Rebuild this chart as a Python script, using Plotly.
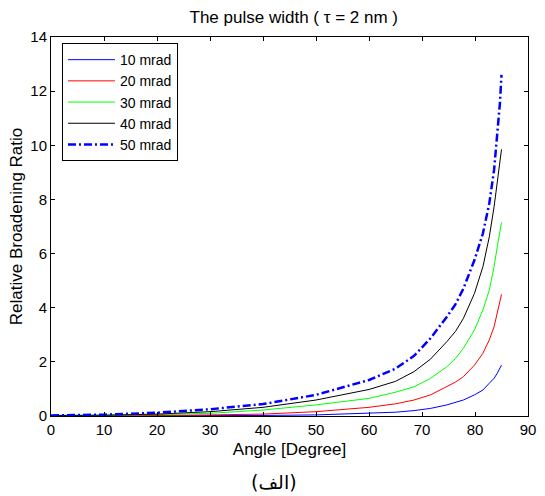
import plotly.graph_objects as go

angle = [0, 10, 20, 30, 40, 50, 60, 65, 68.5, 71.6, 74.7, 76.3, 77.8, 79.9, 81.5, 82.7, 83.6, 84.2, 84.7, 85]
r10 = [0.0, 0.0, 0.01, 0.01, 0.02, 0.04, 0.10, 0.14, 0.20, 0.28, 0.41, 0.49, 0.59, 0.78, 0.96, 1.21, 1.39, 1.58, 1.76, 1.88]
r20 = [0.01, 0.01, 0.02, 0.04, 0.07, 0.16, 0.32, 0.45, 0.59, 0.78, 1.08, 1.25, 1.45, 1.88, 2.32, 2.81, 3.30, 3.79, 4.22, 4.49]
r30 = [0.01, 0.02, 0.05, 0.10, 0.22, 0.41, 0.65, 0.88, 1.08, 1.39, 1.82, 2.12, 2.50, 3.18, 3.92, 4.65, 5.52, 6.25, 6.87, 7.15]
r40 = [0.02, 0.03, 0.07, 0.16, 0.32, 0.59, 0.98, 1.28, 1.64, 2.10, 2.75, 3.12, 3.60, 4.53, 5.52, 6.62, 7.73, 8.72, 9.46, 9.85]
r50 = [0.02, 0.05, 0.12, 0.25, 0.44, 0.78, 1.33, 1.75, 2.22, 2.87, 3.67, 4.12, 4.70, 5.76, 6.75, 7.86, 9.09, 10.32, 11.55, 12.6]

names = ["10 mrad", "20 mrad", "30 mrad", "40 mrad", "50 mrad"]
series = [r10, r20, r30, r40, r50]
colors = ["#0000ff", "#ff0000", "#00ff00", "#000000", "#0000ff"]
widths = [1, 1, 1, 1, 2.5]
dashes = ["solid", "solid", "solid", "solid", "8px,3px,2px,3px"]

xticks = list(range(0, 91, 10))
yticks = list(range(0, 15, 2))

FONT = "Liberation Sans, Arial, DejaVu Sans, sans-serif"

fig = go.Figure()
for n, s, c, w, d in zip(names, series, colors, widths, dashes):
    fig.add_trace(go.Scatter(x=angle, y=s, mode="lines", name=n,
                             line=dict(color=c, width=w, dash=d)))

axis_common = dict(showgrid=False, zeroline=False, showline=True, linecolor="black",
                   linewidth=1, mirror="ticks", ticks="inside", ticklen=4,
                   tickcolor="black", tickfont=dict(size=15, color="black", family=FONT))

fig.update_layout(
    width=545, height=496,
    margin=dict(l=51, r=9, t=37, b=80),
    paper_bgcolor="white", plot_bgcolor="white",
    font=dict(family=FONT, color="black"),
    title=dict(text="The pulse width ( τ = 2 nm )", x=0.539, xanchor="center",
               y=0.966, yanchor="middle", font=dict(size=17, color="black")),
    xaxis=dict(range=[0, 90], tickvals=xticks, ticktext=[str(v) for v in xticks],
               title=dict(text="Angle [Degree]", font=dict(size=17), standoff=6),
               **axis_common),
    yaxis=dict(range=[0, 14], tickvals=yticks, ticktext=[str(v) for v in yticks],
               title=dict(text="Relative Broadening Ratio", font=dict(size=17), standoff=3),
               **axis_common),
    legend=dict(x=0.023, y=0.984, xanchor="left", yanchor="top",
                bordercolor="black", borderwidth=1, bgcolor="white",
                font=dict(size=14, color="black"), itemwidth=47,
                tracegroupgap=0),
    showlegend=True,
    annotations=[dict(text="(الف)", xref="paper", yref="paper", x=0.468, y=-0.174,
                      xanchor="center", yanchor="middle", showarrow=False,
                      font=dict(size=19, color="black", family="DejaVu Sans, Liberation Sans"))],
)

fig.write_html("out.html")
